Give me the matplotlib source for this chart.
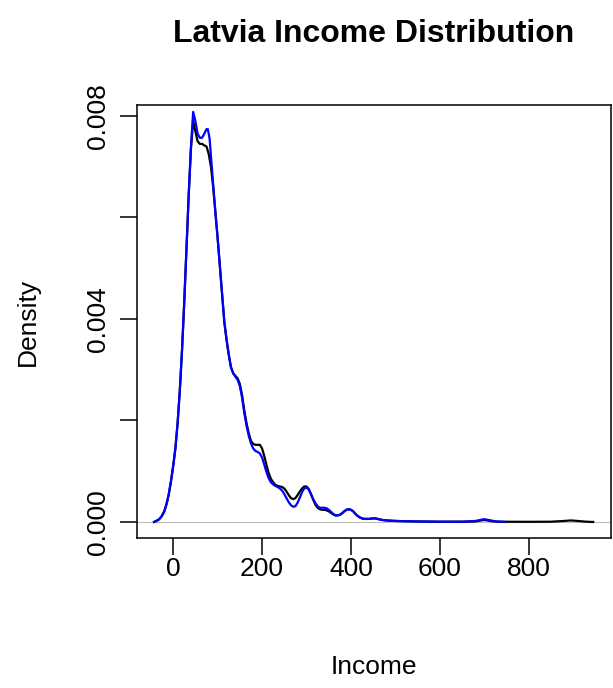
import matplotlib
matplotlib.use("Agg")
import matplotlib.pyplot as plt

plt.rcParams["font.family"] = ["Liberation Sans", "DejaVu Sans"]

# density estimates (income, density x 1e-3)
inc_all = [-43, -38, -32, -26, -20, -15, -10, -5, 0, 5, 10, 15, 20, 25, 30, 35, 40,
           45, 50, 55, 60, 65, 70, 75, 80, 85, 90, 95, 100, 105, 110, 115, 120,
           125, 130, 135, 140, 145, 150, 155, 160, 165, 170, 175, 180, 185, 190,
           195, 200, 205, 210, 215, 220, 225, 230, 235, 240, 245, 250, 255, 260,
           265, 270, 275, 280, 285, 290, 295, 300, 305, 310, 315, 320, 325, 330,
           335, 340, 345, 350, 355, 360, 365, 370, 375, 380, 385, 390, 395, 400,
           405, 410, 415, 420, 425, 430, 440, 450, 455, 460, 470, 480, 490, 500,
           520, 550, 600, 650, 680, 700, 720, 750, 800, 850, 880, 895, 910, 930, 945]
dens_all = [0.00, 0.02, 0.05, 0.11, 0.21, 0.35, 0.54, 0.80, 1.10, 1.45, 1.95, 2.60,
            3.40, 4.35, 5.40, 6.45, 7.35, 7.90, 7.70, 7.50, 7.45, 7.45, 7.42, 7.40,
            7.25, 7.00, 6.60, 6.10, 5.60, 5.05, 4.50, 3.95, 3.60, 3.30, 3.05, 2.93,
            2.88, 2.83, 2.72, 2.50, 2.20, 1.95, 1.75, 1.60, 1.54, 1.52, 1.52, 1.52,
            1.45, 1.30, 1.12, 0.96, 0.85, 0.78, 0.73, 0.71, 0.70, 0.69, 0.66, 0.60,
            0.53, 0.47, 0.45, 0.47, 0.53, 0.60, 0.66, 0.70, 0.70, 0.65, 0.55, 0.44,
            0.34, 0.28, 0.25, 0.24, 0.24, 0.23, 0.21, 0.18, 0.15, 0.13, 0.13, 0.14,
            0.17, 0.21, 0.24, 0.25, 0.24, 0.21, 0.16, 0.12, 0.09, 0.07, 0.06, 0.06,
            0.07, 0.07, 0.06, 0.04, 0.03, 0.025, 0.02, 0.015, 0.01, 0.005, 0.005,
            0.01, 0.04, 0.01, 0.004, 0.003, 0.005, 0.02, 0.03, 0.02, 0.005, 0.0]

inc_sub = [-43, -38, -32, -26, -20, -15, -10, -5, 0, 5, 10, 15, 20, 25, 30, 35, 40,
           45, 50, 55, 60, 65, 70, 75, 78, 82, 86, 90, 95, 100, 105, 110, 115, 120,
           125, 130, 135, 140, 145, 150, 155, 160, 165, 170, 175, 180, 185, 190,
           195, 200, 205, 210, 215, 220, 225, 230, 235, 240, 245, 250, 255, 260,
           265, 270, 275, 280, 285, 290, 295, 300, 305, 310, 315, 320, 325, 330,
           335, 340, 345, 350, 355, 360, 365, 370, 375, 380, 385, 390, 395, 400,
           405, 410, 415, 420, 425, 430, 440, 450, 455, 460, 470, 480, 490, 500,
           520, 550, 600, 650, 680, 700, 715, 730, 746]
dens_sub = [0.00, 0.02, 0.05, 0.11, 0.21, 0.35, 0.54, 0.80, 1.10, 1.45, 1.95, 2.60,
            3.40, 4.35, 5.40, 6.45, 7.40, 8.08, 7.90, 7.65, 7.57, 7.57, 7.65, 7.74,
            7.74, 7.55, 7.10, 6.65, 6.10, 5.60, 5.05, 4.50, 3.95, 3.60, 3.30, 3.05,
            2.93, 2.86, 2.80, 2.68, 2.45, 2.15, 1.90, 1.70, 1.55, 1.45, 1.40, 1.38,
            1.35, 1.27, 1.13, 0.98, 0.86, 0.78, 0.74, 0.71, 0.69, 0.66, 0.62, 0.55,
            0.47, 0.39, 0.33, 0.30, 0.31, 0.38, 0.48, 0.59, 0.66, 0.68, 0.64, 0.55,
            0.45, 0.37, 0.31, 0.28, 0.28, 0.28, 0.27, 0.24, 0.20, 0.16, 0.13, 0.13,
            0.14, 0.17, 0.21, 0.24, 0.25, 0.24, 0.21, 0.16, 0.12, 0.09, 0.07, 0.06,
            0.06, 0.07, 0.07, 0.06, 0.04, 0.03, 0.025, 0.02, 0.015, 0.01, 0.005,
            0.005, 0.02, 0.055, 0.03, 0.005, 0.0]

x_ticks = [0, 200, 400, 600, 800]
y_ticks = [0.0, 0.002, 0.004, 0.006, 0.008]
y_labels = ["0.000", "", "0.004", "", "0.008"]

fig = plt.figure(figsize=(6.13, 6.88), dpi=100)
ax = fig.add_axes([136.5 / 613, 150 / 688, (610.7 - 136.5) / 613, (538 - 105) / 688])

y_all = [d / 1000 for d in dens_all]
y_sub = [d / 1000 for d in dens_sub]

ax.axhline(0, color="#bebebe", lw=0.8, zorder=1)
ax.plot(inc_all, y_all, color="black", lw=1.6, zorder=2)
ax.plot(inc_sub, y_sub, color="blue", lw=1.6, zorder=3)

# R-style 4% padding around the data range
x0, x1 = min(inc_all), max(inc_all)
y1 = max(y_all)
ax.set_xlim(x0 - 0.04 * (x1 - x0), x1 + 0.04 * (x1 - x0))
ax.set_ylim(-0.04 * y1, y1 * 1.04)

ax.set_xticks(x_ticks)
ax.set_xticklabels([str(t) for t in x_ticks])
ax.set_yticks(y_ticks)
ax.set_yticklabels(y_labels, rotation=90, va="center")

for s in ax.spines.values():
    s.set_linewidth(1.1)
ax.tick_params(axis="both", length=12, width=1.1, labelsize=19)
ax.tick_params(axis="x", pad=2)
ax.tick_params(axis="y", pad=7)

fig.text(373.6 / 613, 1 - 34 / 688, "Latvia Income Distribution",
         ha="center", va="center", fontsize=23, fontweight="bold")
fig.text(373.6 / 613, 1 - 667 / 688, "Income", ha="center", va="center", fontsize=19)
fig.text(28 / 613, 1 - 322 / 688, "Density", ha="center", va="center",
         rotation=90, fontsize=19)

fig.savefig("out.png", dpi=100)
